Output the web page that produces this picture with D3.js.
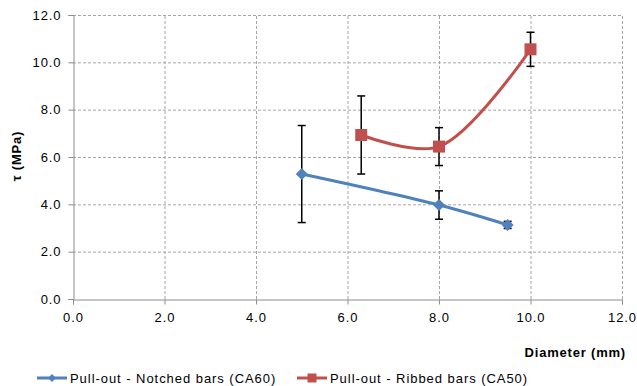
<!DOCTYPE html>
<html>
<head>
<meta charset="utf-8">
<script src="https://d3js.org/d3.v7.min.js"></script>
<style>
body { margin: 0; background: #fff; }
svg { display: block; font-family: "Liberation Sans", Arial, sans-serif; }
</style>
</head>
<body>
<script>
// data
var notchedX = [5.0, 8.0, 9.5];
var notchedY = [5.28, 3.97, 3.13];
var notchedErr = [2.05, 0.6, 0.15];
var ribbedX = [6.3, 8.0, 10.0];
var ribbedY = [6.93, 6.44, 10.55];
var ribbedErr = [1.65, 0.8, 0.72];
var xTicks = [0, 2, 4, 6, 8, 10, 12];
var yTicks = [0, 2, 4, 6, 8, 10, 12];
var seriesNames = ["Pull-out - Notched bars (CA60)", "Pull-out - Ribbed bars (CA50)"];

var W = 637, H = 386;
var m = {left: 73, top: 15, right: 15, bottom: 87};
var svg = d3.select("body").append("svg").attr("width", W).attr("height", H);

var x = d3.scaleLinear().domain([0, 12]).range([m.left, 622]);
var y = d3.scaleLinear().domain([0, 12]).range([299, m.top]);

// grid
svg.append("g").selectAll("line").data(yTicks.filter(function(d){ return d > 0; }))
  .enter().append("line")
  .attr("x1", x(0)).attr("x2", x(12))
  .attr("y1", function(d){ return y(d) + 0.5; }).attr("y2", function(d){ return y(d) + 0.5; })
  .attr("stroke", "#a6a6a6").attr("stroke-dasharray", "3,2");
svg.append("g").selectAll("line").data(xTicks.filter(function(d){ return d > 0; }))
  .enter().append("line")
  .attr("y1", y(0)).attr("y2", y(12))
  .attr("x1", function(d){ return x(d) + 0.5; }).attr("x2", function(d){ return x(d) + 0.5; })
  .attr("stroke", "#a6a6a6").attr("stroke-dasharray", "3,2");

// axes
var fmt = d3.format(".1f");
var xAxis = svg.append("g").attr("transform", "translate(0," + (y(0) + 0.5) + ")")
  .call(d3.axisBottom(x).tickValues(xTicks).tickFormat(fmt).tickSize(5).tickPadding(8));
var yAxis = svg.append("g").attr("transform", "translate(" + (x(0) + 0.5) + ",0)")
  .call(d3.axisLeft(y).tickValues(yTicks).tickFormat(fmt).tickSize(5).tickPadding(7));
[xAxis, yAxis].forEach(function(a){
  a.select(".domain").attr("stroke", "#8c8c8c");
  a.selectAll(".tick line").attr("stroke", "#8c8c8c");
  a.selectAll("text").attr("font-size", 13).attr("fill", "#000")
    .attr("letter-spacing", "0.9px")
    .attr("font-family", "Liberation Sans, Arial, sans-serif");
});

// axis titles
svg.append("text").attr("transform", "translate(21," + (y(6) - 1) + ") rotate(-90)")
  .attr("text-anchor", "middle").attr("font-size", 13).attr("font-weight", "bold")
  .attr("letter-spacing", "0.8px")
  .text("τ (MPa)");
svg.append("text").attr("x", 626).attr("y", 357)
  .attr("text-anchor", "end").attr("font-size", 13).attr("font-weight", "bold")
  .attr("letter-spacing", "0.8px")
  .text("Diameter (mm)");

var line = d3.line().curve(d3.curveCatmullRom.alpha(0.5))
  .x(function(d){ return x(d[0]); }).y(function(d){ return y(d[1]); });

function series(xs, ys, errs, color, shape) {
  var pts = xs.map(function(v, i){ return [v, ys[i], errs[i]]; });
  var g = svg.append("g");
  g.append("path").datum(pts).attr("d", line)
    .attr("fill", "none").attr("stroke", color).attr("stroke-width", 3);
  var eb = g.selectAll(".eb").data(pts).enter().append("g");
  eb.append("line")
    .attr("x1", function(d){ return x(d[0]); }).attr("x2", function(d){ return x(d[0]); })
    .attr("y1", function(d){ return y(d[1] + d[2]); }).attr("y2", function(d){ return y(d[1] - d[2]); })
    .attr("stroke", "#000").attr("stroke-width", 1.5);
  [1, -1].forEach(function(s){
    eb.append("line")
      .attr("x1", function(d){ return x(d[0]) - 4; }).attr("x2", function(d){ return x(d[0]) + 4; })
      .attr("y1", function(d){ return y(d[1] + s * d[2]); }).attr("y2", function(d){ return y(d[1] + s * d[2]); })
      .attr("stroke", "#000").attr("stroke-width", 1.5);
  });
  g.selectAll(".mk").data(pts).enter().append("path")
    .attr("transform", function(d){ return "translate(" + x(d[0]) + "," + y(d[1]) + ")"; })
    .attr("d", shape).attr("fill", color);
}
var diamond = "M0,-6L6,0L0,6L-6,0Z";
var square = "M-6,-6H6V6H-6Z";
series(notchedX, notchedY, notchedErr, "#4f81bd", diamond);
series(ribbedX, ribbedY, ribbedErr, "#c0504d", square);

// legend
var leg = [
  {name: seriesNames[0], color: "#4f81bd", shape: "M0,-4L4,0L0,4L-4,0Z", x0: 37},
  {name: seriesNames[1], color: "#c0504d", shape: "M-4.5,-4.5H4.5V4.5H-4.5Z", x0: 297}
];
var lg = svg.selectAll(".leg").data(leg).enter().append("g")
  .attr("transform", function(d){ return "translate(" + d.x0 + ",378)"; });
lg.append("line").attr("x1", 0).attr("x2", 30)
  .attr("stroke", function(d){ return d.color; }).attr("stroke-width", 3);
lg.append("path").attr("transform", "translate(15,0)")
  .attr("d", function(d){ return d.shape; }).attr("fill", function(d){ return d.color; });
lg.append("text").attr("x", 33).attr("y", 5).attr("font-size", 13)
  .attr("letter-spacing", "0.95px")
  .text(function(d){ return d.name; });
</script>
</body>
</html>
